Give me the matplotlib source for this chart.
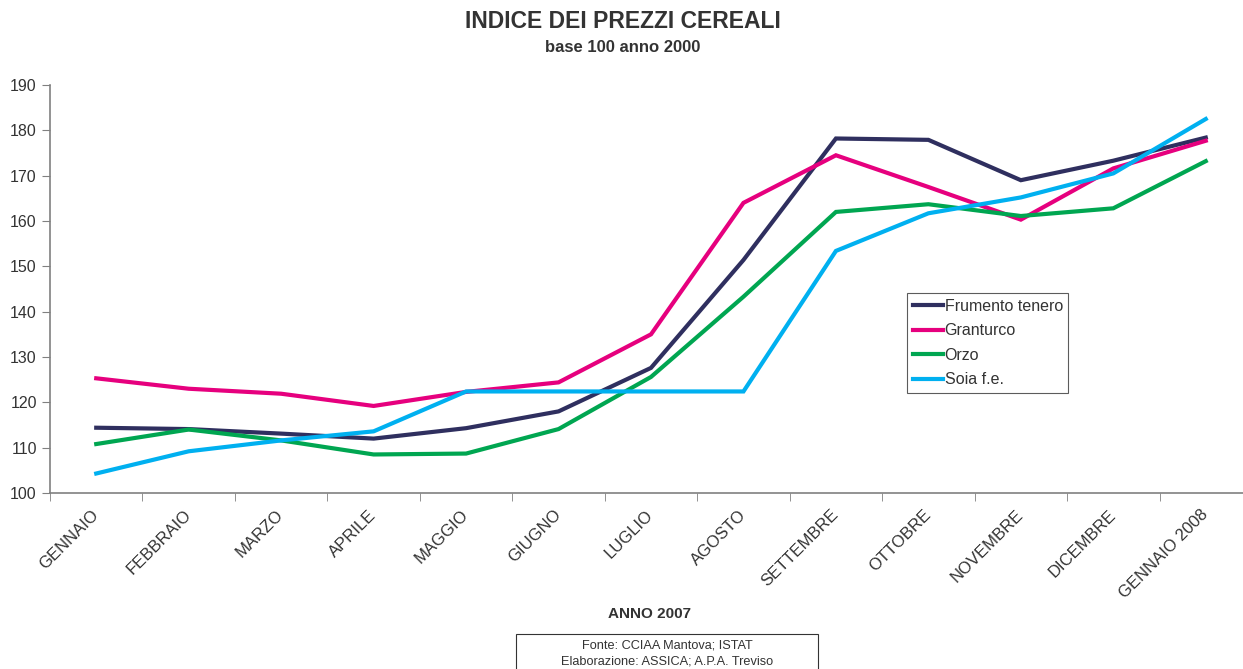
import numpy as np
import matplotlib.pyplot as plt
from matplotlib.patches import Rectangle

plt.rcParams['font.family'] = ['Liberation Sans', 'DejaVu Sans']

mesi = ["GENNAIO", "FEBBRAIO", "MARZO", "APRILE", "MAGGIO", "GIUGNO", "LUGLIO",
        "AGOSTO", "SETTEMBRE", "OTTOBRE", "NOVEMBRE", "DICEMBRE", "GENNAIO 2008"]

frumento = [114.4, 114.1, 113.1, 112.0, 114.3, 118.0, 127.6, 151.4, 178.2, 177.9, 169.0, 173.3, 178.4]
granturco = [125.3, 123.0, 121.9, 119.2, 122.3, 124.4, 135.0, 164.0, 174.5, 167.5, 160.3, 171.6, 177.7]
orzo = [110.8, 114.0, 111.6, 108.5, 108.7, 114.1, 125.6, 143.3, 162.0, 163.7, 161.1, 162.8, 173.2]
soia = [104.3, 109.2, 111.6, 113.6, 122.4, 122.4, 122.4, 122.4, 153.4, 161.7, 165.2, 170.5, 182.5]

serie = [("Frumento tenero", frumento, "#2f2f5f"),
         ("Granturco", granturco, "#e6007e"),
         ("Orzo", orzo, "#00a651"),
         ("Soia f.e.", soia, "#00b0f0")]

W, H = 1243, 669
fig = plt.figure(figsize=(W / 100, H / 100), dpi=100)
ax = fig.add_axes([50 / W, (H - 493) / H, 1202 / W, 408 / H])

x = np.arange(len(mesi))
for nome, vals, col in serie:
    ax.plot(x, vals, color=col, lw=3, label=nome, solid_joinstyle='miter')

ax.set_xlim(-0.5, 12.5)
ax.set_ylim(100, 190)
ax.set_yticks(np.arange(100, 191, 10))
ax.set_xticks(x)
ax.set_xticklabels(mesi, rotation=45, ha='right', va='center', rotation_mode='anchor',
                   fontsize=12, color='#333333')
ax.set_xticks(np.arange(-0.5, 13, 1), minor=True)
ax.tick_params(axis='x', which='major', length=0, pad=14)
ax.tick_params(axis='x', which='minor', length=6, color='#808080', direction='out')
ax.tick_params(axis='y', length=6, color='#808080', labelsize=11.5, labelcolor='#333333')
for s in ['top', 'right']:
    ax.spines[s].set_visible(False)
for s in ['left', 'bottom']:
    ax.spines[s].set_color('#808080')
    ax.spines[s].set_linewidth(1.2)

leg = ax.legend(loc='upper left', bbox_to_anchor=(907 / W, 1 - 293 / H), bbox_transform=fig.transFigure,
                fontsize=11.5, frameon=True, fancybox=False, handlelength=1.9, handletextpad=0.1,
                borderpad=0.35, labelspacing=0.6, borderaxespad=0)
leg.get_frame().set_edgecolor('#333333')
leg.get_frame().set_linewidth(0.8)
for t in leg.get_texts():
    t.set_color('#333333')

fig.text(623 / W, 1 - 22 / H, "INDICE DEI PREZZI CEREALI", ha='center', va='center',
         fontsize=16.5, fontweight='bold', color='#333333')
fig.text(623 / W, 1 - 47 / H, "base 100 anno 2000", ha='center', va='center',
         fontsize=12, fontweight='bold', color='#333333')
fig.text(650 / W, 1 - 614 / H, "ANNO 2007", ha='center', va='center',
         fontsize=11, fontweight='bold', color='#333333')

fig.patches.append(Rectangle((516 / W, -0.05), 302 / W, (H - 634) / H + 0.05,
                             transform=fig.transFigure, fill=False, edgecolor='#333333', lw=0.8))
fig.text(667 / W, 1 - 645 / H, "Fonte: CCIAA Mantova; ISTAT", ha='center', va='center',
         fontsize=9.2, color='#333333')
fig.text(667 / W, 1 - 662 / H, "Elaborazione: ASSICA; A.P.A. Treviso", ha='center', va='center',
         fontsize=9.2, color='#333333')

fig.savefig("out.png", dpi=100)
